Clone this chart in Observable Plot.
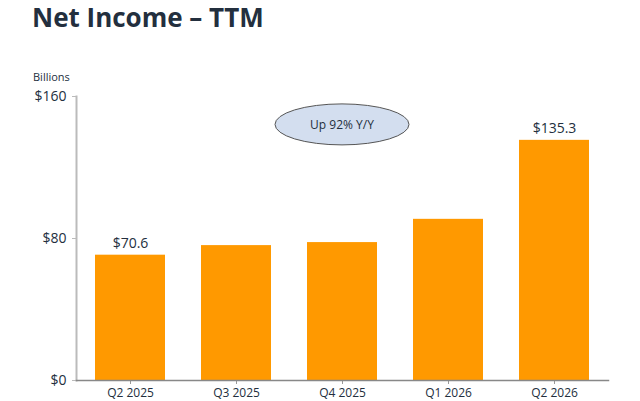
<!DOCTYPE html>
<html><head><meta charset="utf-8">
<script src="https://cdn.jsdelivr.net/npm/d3@7"></script>
<script src="https://cdn.jsdelivr.net/npm/@observablehq/plot@0.6"></script>
<style>
html,body{margin:0;padding:0;background:#fff;}
#wrap{position:relative;width:640px;height:401px;overflow:hidden;font-family:"Open Sans",sans-serif;background:#fff;}
#title{position:absolute;left:32px;top:4px;font-size:26px;line-height:26px;font-weight:700;color:#232F3E;white-space:nowrap;z-index:2;}
#unit{position:absolute;left:33px;top:71px;font-size:11px;line-height:11px;color:#232F3E;z-index:2;}
#chart{position:absolute;left:0;top:60px;z-index:1;}
</style></head>
<body><div id="wrap"><div id="title">Net Income – TTM</div><div id="unit">Billions</div><div id="chart"></div></div>
<script>
const quarters = ["Q2 2025","Q3 2025","Q4 2025","Q1 2026","Q2 2026"];
const netIncome = [70.6, 76.0, 77.7, 90.8, 135.3];
const labelled = ["Q2 2025","Q2 2026"];
const yTicks = [0, 80, 160];
const calloutText = "Up 92% Y/Y";
const calloutQuarter = "Q4 2025";
const calloutValue = 144;

const data = quarters.map((q,i)=>({q, v: netIncome[i]}));

function callout(index, scales, values, dims) {
  const xs = scales.x, ys = scales.y;
  const cx = xs(calloutQuarter) + xs.bandwidth()/2;
  const cy = ys(calloutValue);
  const g = d3.create("svg:g");
  g.append("ellipse").attr("cx",cx).attr("cy",cy).attr("rx",67).attr("ry",20.5)
    .attr("fill","#D3DEEF").attr("stroke","#555").attr("stroke-width",1);
  g.append("text").attr("x",cx).attr("y",cy).attr("text-anchor","middle").attr("dy","0.35em")
    .attr("fill","#232F3E").attr("font-size",12).text(calloutText);
  return g.node();
}

const chart = Plot.plot({
  width: 640, height: 341,
  marginTop: 36, marginBottom: 21, marginLeft: 76, marginRight: 32,
  style: {fontFamily: "Open Sans, sans-serif", color: "#232F3E", background: "transparent"},
  x: {domain: quarters, paddingInner: 0.341, paddingOuter: 0.17, label: null},
  y: {domain: [0,160], label: null},
  marks: [
    Plot.barY(data, {x:"q", y:"v", fill:"#FF9900"}),
    Plot.axisY({ticks: yTicks, tickFormat: d=>"$"+d, tickSize: 4, tickPadding: 6, stroke:"#bbb", fontSize: 14, fill:"#232F3E", label: null}),
    Plot.axisX({tickSize: 4, tickPadding: 4, stroke:"#999", fontSize: 12, fill:"#232F3E", label: null}),
    Plot.frame({anchor:"left", stroke:"#bbb", strokeWidth:2}),
    Plot.frame({anchor:"bottom", stroke:"#888", strokeWidth:1.5}),
    Plot.text(data.filter(d=>labelled.includes(d.q)), {x:"q", y:"v", text: d=>"$"+d.v.toFixed(1), dy:-12, fontSize:14, fill:"#232F3E"}),
    callout
  ]
});
document.getElementById("chart").appendChild(chart);
</script></body></html>
